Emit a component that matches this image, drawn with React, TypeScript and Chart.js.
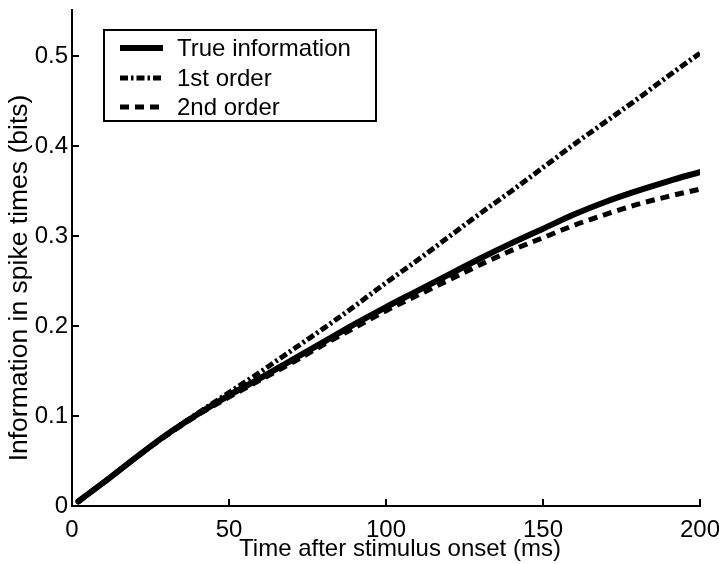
import React, { useEffect, useRef } from "react";
import { Chart, registerables } from "chart.js";

Chart.register(...registerables);

// ---- data ----
const timeMs = [2, 10, 20, 30, 40, 50, 60, 70, 80, 90, 100, 110, 120, 130, 140, 150, 160, 170, 180, 190, 200];
const trueInfo = [0.005, 0.026, 0.053, 0.079, 0.102, 0.123, 0.142, 0.162, 0.182, 0.202, 0.221, 0.239, 0.257, 0.275, 0.292, 0.308, 0.324, 0.338, 0.35, 0.361, 0.371];
const firstOrder = [0.005, 0.026, 0.053, 0.079, 0.103, 0.126, 0.149, 0.173, 0.197, 0.222, 0.248, 0.273, 0.299, 0.325, 0.35, 0.376, 0.402, 0.427, 0.452, 0.478, 0.503];
const secondOrder = [0.005, 0.026, 0.053, 0.078, 0.101, 0.121, 0.14, 0.159, 0.179, 0.198, 0.217, 0.234, 0.251, 0.268, 0.284, 0.298, 0.312, 0.324, 0.335, 0.344, 0.352];

const xTicks = [0, 50, 100, 150, 200];
const yTicks = [0, 0.1, 0.2, 0.3, 0.4, 0.5];
const seriesLabels = ["True information", "1st order", "2nd order"];
const xTitle = "Time after stimulus onset (ms)";
const yTitle = "Information in spike times (bits)";

const FONT = '"Liberation Sans", Arial, Helvetica, sans-serif';
const FONT_SIZE = 24;

const toPoints = (ys: number[]) => ys.map((y, i) => ({ x: timeMs[i], y }));

const styles = [
  { borderWidth: 6, borderDash: [] as number[], borderCapStyle: "round" },
  { borderWidth: 5, borderDash: [8, 3, 2.5, 3], borderCapStyle: "butt" },
  { borderWidth: 5, borderDash: [9, 6], borderCapStyle: "butt" },
];

const inwardTicks = {
  id: "inwardTicks",
  afterDraw(chart: any) {
    const { ctx, chartArea, scales } = chart;
    const x = scales.x;
    const y = scales.y;
    ctx.save();
    ctx.strokeStyle = "#000";
    ctx.lineWidth = 2;
    ctx.beginPath();
    x.ticks.forEach((t: any) => {
      const px = x.getPixelForValue(t.value);
      ctx.moveTo(px, chartArea.bottom);
      ctx.lineTo(px, chartArea.bottom - 7);
    });
    y.ticks.forEach((t: any) => {
      const py = y.getPixelForValue(t.value);
      ctx.moveTo(chartArea.left, py);
      ctx.lineTo(chartArea.left + 7, py);
    });
    ctx.stroke();
    ctx.restore();
  },
};

const titlesPlugin = {
  id: "titlesPlugin",
  afterDraw(chart: any) {
    const { ctx } = chart;
    ctx.save();
    ctx.fillStyle = "#000";
    ctx.textAlign = "center";
    ctx.textBaseline = "middle";
    ctx.font = `${FONT_SIZE}px ${FONT}`;
    ctx.fillText(xTitle, 400, 549);
    ctx.font = `26.5px ${FONT}`;
    ctx.translate(20, 278);
    ctx.rotate(-Math.PI / 2);
    ctx.fillText(yTitle, 0, 0);
    ctx.restore();
  },
};

const boxLegend = {
  id: "boxLegend",
  afterDraw(chart: any) {
    const { ctx } = chart;
    const bx = 104, by = 30, bw = 272, bh = 91;
    ctx.save();
    ctx.fillStyle = "#fff";
    ctx.fillRect(bx, by, bw, bh);
    ctx.strokeStyle = "#000";
    ctx.lineWidth = 2;
    ctx.strokeRect(bx, by, bw, bh);
    const rows = [48, 78, 107];
    chart.data.datasets.forEach((ds: any, i: number) => {
      const ry = rows[i];
      ctx.beginPath();
      ctx.lineWidth = ds.borderWidth;
      ctx.setLineDash(ds.borderDash || []);
      ctx.lineCap = "butt";
      ctx.moveTo(120, ry);
      ctx.lineTo(163, ry);
      ctx.stroke();
      ctx.setLineDash([]);
      ctx.fillStyle = "#000";
      ctx.font = `${FONT_SIZE}px ${FONT}`;
      ctx.textAlign = "left";
      ctx.textBaseline = "middle";
      ctx.fillText(ds.label, 177, ry + 1);
    });
    ctx.restore();
  },
};

export default function App() {
  const canvasRef = useRef<HTMLCanvasElement | null>(null);

  useEffect(() => {
    document.body.style.margin = "0";
    const canvas = canvasRef.current;
    if (!canvas) return;
    const seriesData = [trueInfo, firstOrder, secondOrder];
    const chart = new Chart(canvas, {
      type: "line",
      data: {
        datasets: seriesData.map((ys, i) => ({
          label: seriesLabels[i],
          data: toPoints(ys),
          borderColor: "#000",
          backgroundColor: "#000",
          borderWidth: styles[i].borderWidth,
          borderDash: styles[i].borderDash,
          borderCapStyle: styles[i].borderCapStyle as any,
          pointRadius: 0,
          cubicInterpolationMode: "monotone" as const,
          fill: false,
        })),
      },
      options: {
        animation: false,
        responsive: false,
        maintainAspectRatio: false,
        layout: { padding: { top: 10, right: 19, left: 0, bottom: 0 } },
        plugins: {
          legend: { display: false },
          tooltip: { enabled: false },
          title: { display: false },
        },
        scales: {
          x: {
            type: "linear",
            min: 0,
            max: 200,
            afterBuildTicks: (scale: any) => {
              scale.ticks = xTicks.map((v) => ({ value: v }));
            },
            afterFit: (scale: any) => {
              scale.height = 58;
              scale.paddingLeft = 0;
              scale.paddingRight = 0;
            },
            ticks: {
              color: "#000",
              padding: 10,
              maxRotation: 0,
              autoSkip: false,
              font: { family: FONT, size: FONT_SIZE },
              callback: (v: any) => String(v),
            },
            grid: { display: true, drawOnChartArea: false, drawTicks: false, color: "#000" },
            border: { display: true, color: "#000", width: 2 },
          },
          y: {
            type: "linear",
            min: 0,
            max: 0.551,
            afterBuildTicks: (scale: any) => {
              scale.ticks = yTicks.map((v) => ({ value: v }));
            },
            afterFit: (scale: any) => {
              scale.width = 72;
              scale.paddingTop = 0;
              scale.paddingBottom = 0;
            },
            ticks: {
              color: "#000",
              padding: 4,
              autoSkip: false,
              font: { family: FONT, size: FONT_SIZE },
              callback: (v: any) => String(v),
            },
            grid: { display: true, drawOnChartArea: false, drawTicks: false, color: "#000" },
            border: { display: true, color: "#000", width: 2 },
          },
        },
      },
      plugins: [inwardTicks, titlesPlugin, boxLegend],
    });
    return () => chart.destroy();
  }, []);

  return (
    <div style={{ position: "absolute", left: 0, top: 0, width: 719, height: 564, background: "#fff" }}>
      <canvas ref={canvasRef} width={719} height={564} style={{ width: 719, height: 564 }} />
    </div>
  );
}
